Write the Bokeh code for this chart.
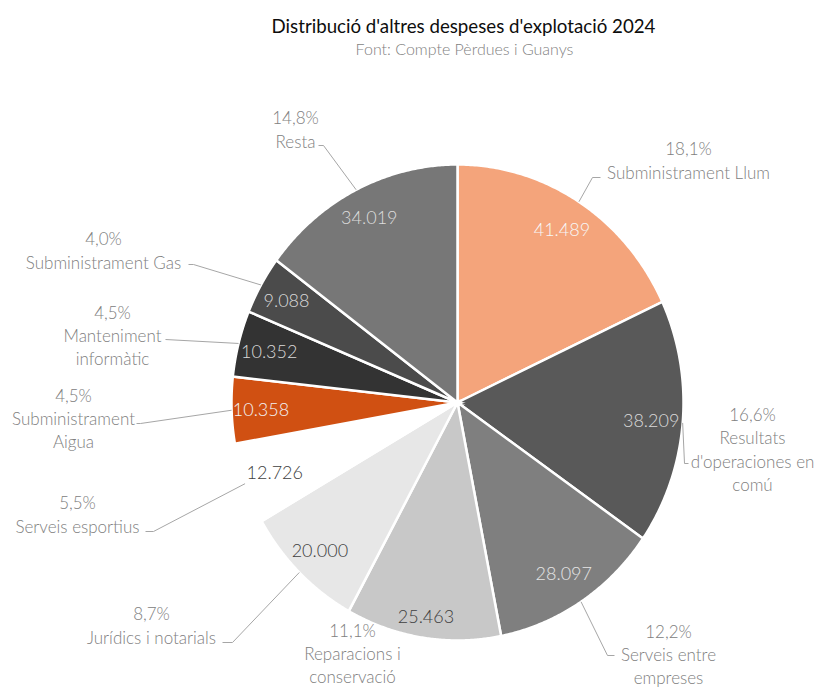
import numpy as np
from bokeh.plotting import figure
from bokeh.models import Range1d
from bokeh.core.properties import value
from bokeh.embed import file_html
from bokeh.resources import INLINE

# ---------------- data ----------------
categories = [
    "Subministrament Llum",
    "Resultats\nd'operaciones en\ncomú",
    "Serveis entre\nempreses",
    "Reparacions i\nconservació",
    "Jurídics i notarials",
    "Serveis esportius",
    "Subministrament\nAigua",
    "Manteniment\ninformàtic",
    "Subministrament Gas",
    "Resta",
]
amounts = [41489, 38209, 28097, 25463, 20000, 12726, 10358, 10352, 9088, 34019]

title_text = "Distribució d'altres despeses d'explotació 2024"
subtitle_text = "Font: Compte Pèrdues i Guanys"

# ---------------- style / layout ----------------
slice_colors = ["#F4A47B", "#595959", "#7F7F7F", "#C8C8C8", "#E7E7E7",
                "#FFFFFF", "#D05012", "#333333", "#4B4B4B", "#777777"]
value_colors = ["#F7F7F7", "#D9D9D9", "#E6E6E6", "#404040", "#404040",
                "#404040", "#F2F2F2", "#D9D9D9", "#D9D9D9", "#DDDDDD"]
value_r = [0.86, 0.86, 0.86, 0.91, 0.87, 0.86, 0.87, 0.86, 0.87, 0.87]

W, H = 820, 689
CX, CY, RX, RY = 457, 402, 226, 238
LABEL_FONT = "Lato Light"


def to_data(X, Y):
    return (X - CX) / RX, (CY - Y) / RY


# outer label block centres (page pixels) and leader bend points
label_pos = [(688, 160), (752, 449), (668, 654), (352, 653), (151, 625),
             (77, 514), (73, 418), (112, 335), (103, 250), (295, 129)]
leader_pts = [
    [(592, 177), (600, 177)],
    [(684, 463), (688, 463)],
    [(607, 655), (614, 655)],
    None,
    [(232, 642), (222, 642)],
    [(153, 531), (145, 531)],
    [(140, 423), (136, 423)],
    [(165, 339)],
    [(193, 264), (188, 264)],
    [(323, 145), (318, 145)],
]

# ---------------- computations ----------------
vals = np.array(amounts, dtype=float)
total = vals.sum()
cum = np.concatenate([[0], np.cumsum(vals)]) / total
starts = cum[:-1] * 2 * np.pi
ends = cum[1:] * 2 * np.pi
mids = (starts + ends) / 2

xs, ys = [], []
for a0, a1 in zip(starts, ends):
    t = np.linspace(a0, a1, 120)
    xs.append([0.0] + list(np.sin(t)) + [0.0])
    ys.append([0.0] + list(np.cos(t)) + [0.0])

p = figure(width=W, height=H, output_backend="svg", toolbar_location=None,
           x_range=Range1d(-CX / RX, (W - CX) / RX),
           y_range=Range1d((CY - H) / RY, CY / RY),
           min_border=0, outline_line_color=None)
p.axis.visible = False
p.grid.visible = False
p.background_fill_color = "white"
p.border_fill_color = "white"

p.patches(xs=xs, ys=ys, fill_color=slice_colors, line_color="white",
          line_width=2.5, line_join="miter")

# value labels
vx = [r * np.sin(m) for r, m in zip(value_r, mids)]
vy = [r * np.cos(m) for r, m in zip(value_r, mids)]
vtxt = [f"{int(v):,}".replace(",", ".") for v in amounts]
p.text(x=vx, y=vy, text=vtxt, text_color=value_colors,
       text_font=value(LABEL_FONT), text_font_size="18px",
       text_align="center", text_baseline="middle")

# leader lines
lx, ly = [], []
for m, pts in zip(mids, leader_pts):
    if pts is None:
        continue
    lx.append([np.sin(m)] + [to_data(*q)[0] for q in pts])
    ly.append([np.cos(m)] + [to_data(*q)[1] for q in pts])
p.multi_line(xs=lx, ys=ly, line_color="#A6A6A6", line_width=1)

# outer labels: percentage + category
otxt = [f"{v / total * 100:.1f}".replace(".", ",") + "%\n" + c
        for v, c in zip(amounts, categories)]
ox = [to_data(*q)[0] for q in label_pos]
oy = [to_data(*q)[1] for q in label_pos]
p.text(x=ox, y=oy, text=otxt, text_color="#808080",
       text_font=value(LABEL_FONT), text_font_size="17px",
       text_align="center", text_baseline="middle", text_line_height=1.1)

# title & subtitle
tx, ty = to_data(463, 25)
p.text(x=[tx], y=[ty], text=[title_text], text_color="#0D0D0D",
       text_font=value("Lato"), text_font_size="18.7px",
       text_align="center", text_baseline="middle")
sx, sy = to_data(464, 48)
p.text(x=[sx], y=[sy], text=[subtitle_text], text_color="#7F7F7F",
       text_font=value(LABEL_FONT), text_font_size="16px",
       text_align="center", text_baseline="middle")

open("out.html", "w").write(file_html(p, INLINE))
